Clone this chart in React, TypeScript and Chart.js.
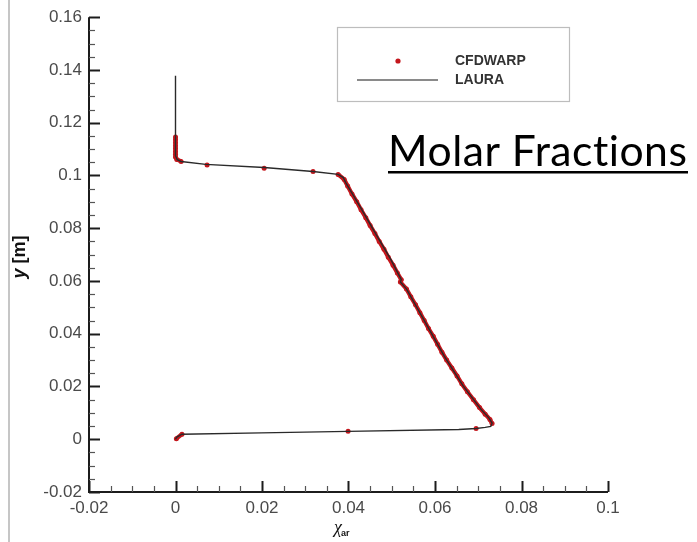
import React, { useEffect, useRef } from 'react';
import { Chart, registerables } from 'chart.js';

Chart.register(...registerables);

// ---- axis ranges / ticks ----
const X_MIN = -0.02;
const X_MAX = 0.1;
const Y_MIN = -0.02;
const Y_MAX = 0.16;
const MAJOR_STEP = 0.02;
const MINOR_STEP = 0.005;

// ---- text ----
const seriesNames = ['CFDWARP', 'LAURA'];
const xTitleMain = 'χ';
const xTitleSub = 'ar';
const yTitleVar = 'y';
const yTitleUnit = ' [m]';
const annotationText = 'Molar Fractions';

// ---- LAURA (solid line) ----
const lauraX = [
  0.0, 0.0, 0.0, 0.0004, 0.0013, 0.007, 0.0205, 0.0318, 0.0376, 0.0388,
  0.0394, 0.0429, 0.0464, 0.0498, 0.0522, 0.052, 0.0534, 0.0577, 0.0621, 0.0665,
  0.0706, 0.0725, 0.0732, 0.0729, 0.0716, 0.0695, 0.0655, 0.0399, 0.0198, 0.0015,
  0.0003, 0.0,
];
const lauraY = [
  0.1378, 0.11, 0.1075, 0.106, 0.1053, 0.1042, 0.103, 0.1015, 0.1004, 0.0992,
  0.0972, 0.0875, 0.0776, 0.0681, 0.0605, 0.0596, 0.057, 0.0445, 0.0316, 0.0202,
  0.0114, 0.008, 0.0061, 0.0049, 0.0045, 0.0041, 0.0037, 0.003, 0.0024, 0.0019,
  0.0008, 0.0,
];

// ---- CFDWARP (symbols) ----
const cfdX = [
  0.0, 0.0, 0.0, 0.0, 0.0, 0.0, 0.0, 0.0, 0.0003, 0.0013,
  0.0073, 0.0205, 0.0318, 0.0376,
  0.039, 0.0398, 0.0408, 0.0419, 0.0429, 0.044, 0.045, 0.0461, 0.0471, 0.0482,
  0.0492, 0.0503, 0.0513, 0.0522, 0.052, 0.0534, 0.0544, 0.0555, 0.0565, 0.0575,
  0.0585, 0.0596, 0.0606, 0.0616, 0.0627, 0.0639, 0.0651, 0.0662, 0.0675, 0.0689,
  0.0703, 0.0716, 0.0727, 0.0732,
  0.0695, 0.0399, 0.0015, 0.0002,
];
const cfdY = [
  0.1146, 0.1135, 0.1124, 0.1113, 0.1102, 0.1091, 0.108, 0.107, 0.1061, 0.1053,
  0.104, 0.1027, 0.1015, 0.1004,
  0.0985, 0.096, 0.093, 0.09, 0.087, 0.084, 0.081, 0.078, 0.075, 0.072,
  0.069, 0.066, 0.063, 0.0605, 0.0596, 0.057, 0.054, 0.051, 0.048, 0.045,
  0.042, 0.039, 0.036, 0.033, 0.03, 0.027, 0.024, 0.021, 0.018, 0.015,
  0.012, 0.0095, 0.0075, 0.006,
  0.0041, 0.003, 0.0019, 0.0002,
];

const RED = '#c4161c';
const LINE = '#2a2a2a';

const fmt = (v: number) => String(Math.round(v * 1000) / 1000);

const decorPlugin = {
  id: 'decor',
  afterDraw(chart: any) {
    const ctx: CanvasRenderingContext2D = chart.ctx;
    const xs = chart.scales.x;
    const ys = chart.scales.y;
    const { left, right, top, bottom } = chart.chartArea;
    ctx.save();

    // page border line on the left
    ctx.strokeStyle = '#c6c6c6';
    ctx.lineWidth = 2;
    ctx.beginPath();
    ctx.moveTo(9, 0);
    ctx.lineTo(9, chart.height);
    ctx.stroke();

    // axis lines
    ctx.strokeStyle = '#1c1c1c';
    ctx.lineWidth = 2;
    ctx.beginPath();
    ctx.moveTo(left, top);
    ctx.lineTo(left, bottom);
    ctx.lineTo(right, bottom);
    ctx.stroke();

    // inward ticks
    const perMajor = Math.round(MAJOR_STEP / MINOR_STEP);
    const nx = Math.round((X_MAX - X_MIN) / MINOR_STEP);
    for (let i = 0; i <= nx; i++) {
      const px = Math.round(xs.getPixelForValue(X_MIN + i * MINOR_STEP)) + 0.5;
      const major = i % perMajor === 0;
      ctx.strokeStyle = major ? '#1c1c1c' : '#555';
      ctx.lineWidth = major ? 2 : 1.2;
      ctx.beginPath();
      ctx.moveTo(px, bottom);
      ctx.lineTo(px, bottom - (major ? 11 : 6));
      ctx.stroke();
    }
    const ny = Math.round((Y_MAX - Y_MIN) / MINOR_STEP);
    for (let i = 0; i <= ny; i++) {
      const py = Math.round(ys.getPixelForValue(Y_MIN + i * MINOR_STEP)) + 0.5;
      const major = i % perMajor === 0;
      ctx.strokeStyle = major ? '#1c1c1c' : '#555';
      ctx.lineWidth = major ? 2 : 1.2;
      ctx.beginPath();
      ctx.moveTo(left, py);
      ctx.lineTo(left + (major ? 11 : 6), py);
      ctx.stroke();
    }

    // y title (rotated)
    ctx.save();
    ctx.translate(20, 257);
    ctx.rotate(-Math.PI / 2);
    ctx.fillStyle = '#111';
    ctx.textBaseline = 'middle';
    ctx.font = 'italic bold 18px "Liberation Sans", Arial, sans-serif';
    const wv = ctx.measureText(yTitleVar).width;
    ctx.font = 'bold 18px "Liberation Sans", Arial, sans-serif';
    const wu = ctx.measureText(yTitleUnit).width;
    const start = -(wv + wu) / 2;
    ctx.font = 'italic bold 18px "Liberation Sans", Arial, sans-serif';
    ctx.textAlign = 'left';
    ctx.fillText(yTitleVar, start, 0);
    ctx.font = 'bold 18px "Liberation Sans", Arial, sans-serif';
    ctx.fillText(yTitleUnit, start + wv, 0);
    ctx.restore();

    // x title
    ctx.fillStyle = '#111';
    ctx.textAlign = 'left';
    ctx.textBaseline = 'alphabetic';
    ctx.font = 'italic 18px "Liberation Serif", "Times New Roman", serif';
    ctx.fillText(xTitleMain, 334, 533);
    const wc = ctx.measureText(xTitleMain).width;
    ctx.font = 'bold 9px "Liberation Sans", Arial, sans-serif';
    ctx.fillText(xTitleSub, 334 + wc - 1, 536);

    // legend box
    ctx.strokeStyle = '#bdbdbd';
    ctx.lineWidth = 1.2;
    ctx.strokeRect(337.5, 27.5, 232, 74);
    ctx.fillStyle = RED;
    ctx.beginPath();
    ctx.arc(398, 61, 2.6, 0, Math.PI * 2);
    ctx.fill();
    ctx.strokeStyle = '#8a8a8a';
    ctx.lineWidth = 2;
    ctx.beginPath();
    ctx.moveTo(357, 80);
    ctx.lineTo(438, 80);
    ctx.stroke();
    ctx.fillStyle = '#333';
    ctx.font = 'bold 14px "Liberation Sans", Arial, sans-serif';
    ctx.textBaseline = 'middle';
    ctx.fillText(seriesNames[0], 455, 61);
    ctx.fillText(seriesNames[1], 455, 80);

    // annotation "Molar Fractions"
    const anyCtx = ctx as any;
    anyCtx.letterSpacing = '0.5px';
    ctx.font = '40px Lato, "Open Sans", sans-serif';
    const w0 = ctx.measureText(annotationText).width;
    const size = (40 * 300) / w0;
    ctx.font = `${size}px Lato, "Open Sans", sans-serif`;
    ctx.fillStyle = '#000';
    ctx.textBaseline = 'alphabetic';
    ctx.fillText(annotationText, 388, 166);
    anyCtx.letterSpacing = '0px';
    ctx.fillRect(388, 171, 300, 2.5);

    ctx.restore();
  },
};

export default function App() {
  const ref = useRef<HTMLCanvasElement | null>(null);

  useEffect(() => {
    if (!ref.current) return;
    document.body.style.margin = '0';
    const laura = lauraX.map((x, i) => ({ x, y: lauraY[i] }));
    const cfd = cfdX.map((x, i) => ({ x, y: cfdY[i] }));
    const tickFont = { family: '"Liberation Sans", Arial, sans-serif', size: 17 };
    const chart = new Chart(ref.current, {
      type: 'scatter',
      data: {
        datasets: [
          {
            label: seriesNames[1],
            data: laura,
            showLine: true,
            borderColor: LINE,
            borderWidth: 1.4,
            pointRadius: 0,
            tension: 0,
          },
          {
            label: seriesNames[0],
            data: cfd,
            showLine: true,
            borderColor: RED,
            borderWidth: 4.2,
            pointRadius: 2.5,
            pointBorderWidth: 0,
            pointBackgroundColor: RED,
            tension: 0,
            segment: {
              borderColor: (c: any) =>
                Math.hypot(c.p1.x - c.p0.x, c.p1.y - c.p0.y) > 14 ? 'rgba(0,0,0,0)' : RED,
            },
          },
        ],
      },
      options: {
        animation: false,
        responsive: false,
        devicePixelRatio: 1,
        layout: { padding: { top: 16, right: 89, left: 0, bottom: 0 } },
        plugins: { legend: { display: false }, tooltip: { enabled: false } },
        scales: {
          x: {
            type: 'linear',
            min: X_MIN,
            max: X_MAX,
            afterFit: (s: any) => {
              s.height = 50;
            },
            grid: { display: false, drawTicks: false, tickLength: 0 },
            border: { display: false },
            ticks: {
              stepSize: MAJOR_STEP,
              padding: 6,
              color: '#4a4a4a',
              font: tickFont,
              maxRotation: 0,
              callback: (v: any) => fmt(Number(v)),
            },
          },
          y: {
            type: 'linear',
            min: Y_MIN,
            max: Y_MAX,
            afterFit: (s: any) => {
              s.width = 89;
            },
            grid: { display: false, drawTicks: false, tickLength: 0 },
            border: { display: false },
            ticks: {
              stepSize: MAJOR_STEP,
              padding: 7,
              color: '#4a4a4a',
              font: tickFont,
              callback: (v: any) => fmt(Number(v)),
            },
          },
        },
      },
      plugins: [decorPlugin],
    });
    return () => chart.destroy();
  }, []);

  return (
    <div style={{ position: 'absolute', left: 0, top: 0, width: 697, height: 542, background: '#fff' }}>
      <canvas ref={ref} width={697} height={542} style={{ display: 'block' }} />
    </div>
  );
}
